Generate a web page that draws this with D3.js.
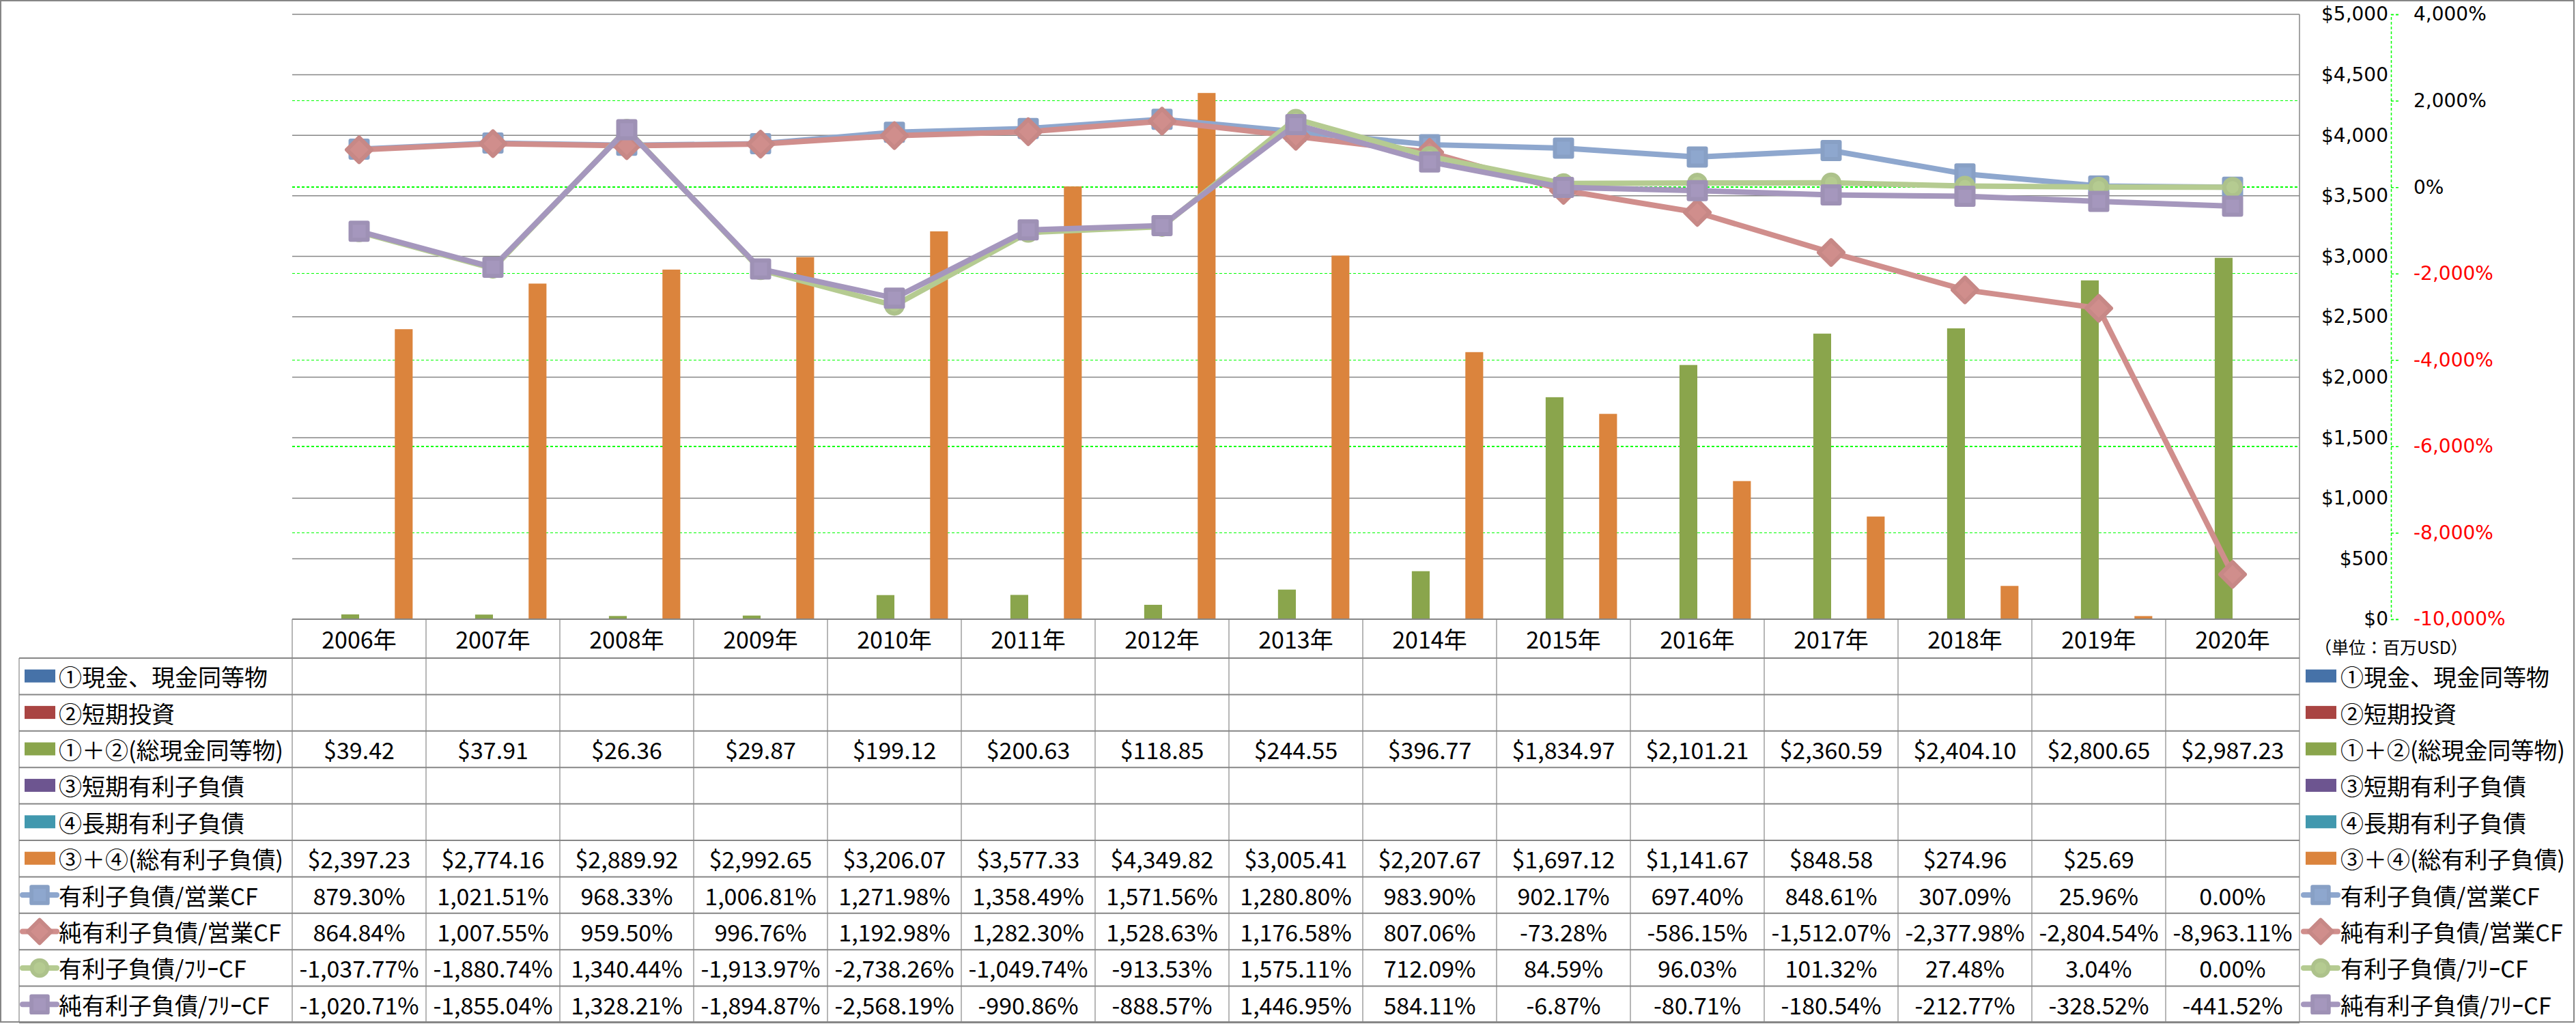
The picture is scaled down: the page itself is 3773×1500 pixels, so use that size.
<!DOCTYPE html>
<html><head><meta charset="utf-8">
<script src="https://cdn.jsdelivr.net/npm/d3@7"></script>
<style>body{margin:0;background:#fff}svg{display:block}</style>
</head><body>
<svg id="c" width="3773" height="1500"></svg>
<script>
// ---------- DATA ----------
const years = ["2006年","2007年","2008年","2009年","2010年","2011年","2012年","2013年","2014年","2015年","2016年","2017年","2018年","2019年","2020年"];
const cashEq = [];          // ①現金、現金同等物 (no values)
const shortInv = [];        // ②短期投資 (no values)
const cashTotal = [39.42, 37.91, 26.36, 29.87, 199.12, 200.63, 118.85, 244.55, 396.77, 1834.97, 2101.21, 2360.59, 2404.10, 2800.65, 2987.23];
const shortDebt = [];       // ③短期有利子負債 (no values)
const longDebt = [];        // ④長期有利子負債 (no values)
const debtTotal = [2397.23, 2774.16, 2889.92, 2992.65, 3206.07, 3577.33, 4349.82, 3005.41, 2207.67, 1697.12, 1141.67, 848.58, 274.96, 25.69, null];
const debtOpCF = [879.30, 1021.51, 968.33, 1006.81, 1271.98, 1358.49, 1571.56, 1280.80, 983.90, 902.17, 697.40, 848.61, 307.09, 25.96, 0.00];
const netDebtOpCF = [864.84, 1007.55, 959.50, 996.76, 1192.98, 1282.30, 1528.63, 1176.58, 807.06, -73.28, -586.15, -1512.07, -2377.98, -2804.54, -8963.11];
const debtFCF = [-1037.77, -1880.74, 1340.44, -1913.97, -2738.26, -1049.74, -913.53, 1575.11, 712.09, 84.59, 96.03, 101.32, 27.48, 3.04, 0.00];
const netDebtFCF = [-1020.71, -1855.04, 1328.21, -1894.87, -2568.19, -990.86, -888.57, 1446.95, 584.11, -6.87, -80.71, -180.54, -212.77, -328.52, -441.52];
const leftTicks = [0, 500, 1000, 1500, 2000, 2500, 3000, 3500, 4000, 4500, 5000];
const rightTicks = [-10000, -8000, -6000, -4000, -2000, 0, 2000, 4000];
const unitLabel = "（単位：百万USD）";

const barSeries = [
  {name:"①現金、現金同等物", color:"#4672A8", values:cashEq},
  {name:"②短期投資", color:"#A94442", values:shortInv},
  {name:"①＋②(総現金同等物)", color:"#8AA54C", values:cashTotal},
  {name:"③短期有利子負債", color:"#6D5590", values:shortDebt},
  {name:"④長期有利子負債", color:"#4198AE", values:longDebt},
  {name:"③＋④(総有利子負債)", color:"#DB843D", values:debtTotal}
];
const lineSeries = [
  {name:"有利子負債/営業CF", color:"#8EA7CE", marker:"square", values:debtOpCF},
  {name:"純有利子負債/営業CF", color:"#D08E8C", marker:"diamond", values:netDebtOpCF},
  {name:"有利子負債/ﾌﾘｰCF", color:"#B5CB91", marker:"circle", values:debtFCF},
  {name:"純有利子負債/ﾌﾘｰCF", color:"#A597BD", marker:"square", values:netDebtFCF}
];

// ---------- LAYOUT ----------
const W = 3773, H = 1500;
const plotL = 428, plotR = 3368, plotT = 21, plotB = 907;
const tableL = 28, tableB = 1498, headerB = 964;
const gridGray = "#868686";
const tableFont = "'Noto Sans CJK JP', sans-serif";
const axisFont = "'DejaVu Sans', sans-serif";

const loc = d3.formatLocale({decimal:".", thousands:",", grouping:[3], currency:["$",""], minus:"-"});
const fMoney = v => "$" + loc.format(",.2f")(v);
const fPct = v => loc.format(",.2f")(v) + "%";
const fAxisMoney = v => "$" + loc.format(",")(v);
const fAxisPct = v => loc.format(",")(v) + "%";

const svg = d3.select("#c");
svg.append("rect").attr("width", W).attr("height", H).attr("fill", "#fff");
svg.append("rect").attr("x",1).attr("y",1).attr("width",3769).attr("height",1496)
  .attr("fill","none").attr("stroke",gridGray).attr("stroke-width",2);

const x = d3.scaleBand().domain(years).range([plotL, plotR]).paddingInner(0).paddingOuter(0);
const xSub = d3.scaleBand().domain(d3.range(barSeries.length)).range([0, x.bandwidth()]).paddingInner(0).paddingOuter(0.75);
const yL = d3.scaleLinear().domain([0, 5000]).range([plotB, plotT]);
const yR = d3.scaleLinear().domain([-10000, 4000]).range([plotB, plotT]);

// secondary gridlines (green dashed)
svg.append("g").selectAll("line").data(rightTicks.filter(t => t > -10000 && t < 4000)).join("line")
  .attr("x1", plotL).attr("x2", plotR).attr("y1", d => yR(d)).attr("y2", d => yR(d))
  .attr("stroke", "#00FF00").attr("stroke-width", 1.5).attr("stroke-dasharray", "4,3").attr("shape-rendering","crispEdges");
// primary gridlines (gray)
svg.append("g").selectAll("line").data(leftTicks).join("line")
  .attr("x1", plotL).attr("x2", plotR).attr("y1", d => yL(d)).attr("y2", d => yL(d))
  .attr("stroke", gridGray).attr("stroke-width", 1.5);
// plot right border
svg.append("line").attr("x1", plotR).attr("x2", plotR).attr("y1", plotT).attr("y2", plotB)
  .attr("stroke", gridGray).attr("stroke-width", 1.5);

// primary axis labels (placed on the right)
const axL = svg.append("g").attr("transform", `translate(3498,0)`)
  .call(d3.axisLeft(yL).tickValues(leftTicks).tickFormat(fAxisMoney).tickSize(0).tickPadding(0));
axL.select(".domain").remove();
axL.selectAll("text").attr("font-family", axisFont).attr("font-size", 28).attr("fill", "#000");

// secondary axis
const axR = svg.append("g").attr("transform", `translate(3502,0)`)
  .call(d3.axisRight(yR).tickValues(rightTicks).tickFormat(fAxisPct).tickSize(11).tickPadding(22));
axR.select(".domain").attr("stroke", "#00FF00").attr("stroke-width", 1.5).attr("stroke-dasharray", "4,3");
axR.selectAll(".tick line").attr("stroke", "#00FF00").attr("stroke-width", 1.5).attr("stroke-dasharray", "4,3");
axR.selectAll("text").attr("font-family", axisFont).attr("font-size", 28)
  .attr("fill", d => d < 0 ? "#FF0000" : "#000");

// bars
barSeries.forEach((s, i) => {
  svg.append("g").selectAll("rect")
    .data(years.map((yr, j) => ({yr, v: s.values[j]})).filter(d => d.v != null))
    .join("rect")
    .attr("x", d => x(d.yr) + xSub(i)).attr("width", xSub.bandwidth())
    .attr("y", d => yL(d.v)).attr("height", d => yL(0) - yL(d.v))
    .attr("fill", s.color);
});

// markers
function markerPath(type) {
  if (type === "diamond") return "M0,-18L18,0L0,18L-18,0Z";
  if (type === "square") return "M-12.5,-12.5H12.5V12.5H-12.5Z";
  return null;
}
function drawMarker(g, type, color, cx, cy, scale) {
  scale = scale || 1;
  if (type === "circle") {
    g.append("circle").attr("cx", cx).attr("cy", cy).attr("r", 12 * scale)
      .attr("fill", color).attr("stroke", d3.color(color).darker(0.12)).attr("stroke-width", 6 * scale);
  } else {
    g.append("path").attr("d", markerPath(type))
      .attr("transform", `translate(${cx},${cy}) scale(${scale})`)
      .attr("fill", color).attr("stroke", d3.color(color).darker(0.12)).attr("stroke-width", 6)
      .attr("stroke-linejoin", "round");
  }
}

// lines
const lineGen = d3.line().x(d => x(d.yr) + x.bandwidth() / 2).y(d => yR(d.v));
lineSeries.forEach(s => {
  const pts = years.map((yr, j) => ({yr, v: s.values[j]}));
  const g = svg.append("g");
  g.append("path").datum(pts).attr("d", lineGen).attr("fill", "none")
    .attr("stroke", s.color).attr("stroke-width", 8).attr("stroke-linejoin", "round");
  pts.forEach(p => drawMarker(g, s.marker, s.color, x(p.yr) + x.bandwidth() / 2, yR(p.v)));
});

// ---------- DATA TABLE ----------
const rowNames = barSeries.map(s => s.name).concat(lineSeries.map(s => s.name));
const rows = d3.scaleBand().domain(rowNames).range([headerB, tableB]);
const tg = svg.append("g");
// horizontal lines
tg.append("line").attr("x1", plotL).attr("x2", plotR).attr("y1", plotB).attr("y2", plotB)
  .attr("stroke", gridGray).attr("stroke-width", 2);
tg.selectAll(".hl").data(rowNames.map(n => rows(n)).concat([tableB])).join("line")
  .attr("x1", tableL).attr("x2", plotR).attr("y1", d => d).attr("y2", d => d)
  .attr("stroke", gridGray).attr("stroke-width", 2);
// vertical lines
tg.selectAll(".vl").data(years.map(y => x(y)).concat([plotR])).join("line")
  .attr("x1", d => d).attr("x2", d => d).attr("y1", plotB).attr("y2", tableB)
  .attr("stroke", gridGray).attr("stroke-width", 1.2);
tg.append("line").attr("x1", tableL).attr("x2", tableL).attr("y1", headerB).attr("y2", tableB)
  .attr("stroke", gridGray).attr("stroke-width", 1.2);

// header
tg.selectAll(".hd").data(years).join("text")
  .attr("x", d => x(d) + x.bandwidth() / 2).attr("y", (plotB + headerB) / 2)
  .attr("text-anchor", "middle").attr("dominant-baseline", "central")
  .attr("font-family", tableFont).attr("font-size", 34).attr("fill", "#000").text(d => d);

// rows
function rowKey(g, name, kx) {
  const cy = rows(name) + rows.bandwidth() / 2;
  const bs = barSeries.find(s => s.name === name);
  if (bs) {
    g.append("rect").attr("x", kx).attr("y", cy - 10).attr("width", 45).attr("height", 19).attr("fill", bs.color);
  } else {
    const ls = lineSeries.find(s => s.name === name);
    g.append("line").attr("x1", kx - 3).attr("x2", kx + 47).attr("y1", cy).attr("y2", cy)
      .attr("stroke", ls.color).attr("stroke-width", 8).attr("stroke-linecap", "round");
    drawMarker(g, ls.marker, ls.color, kx + 22, cy, 0.95);
  }
}
const allSeries = barSeries.map(s => ({...s, fmt: fMoney})).concat(lineSeries.map(s => ({...s, fmt: fPct})));
allSeries.forEach(s => {
  const cy = rows(s.name) + rows.bandwidth() / 2;
  rowKey(tg, s.name, 36);
  tg.append("text").attr("x", 86).attr("y", cy).attr("dominant-baseline", "central")
    .attr("font-family", tableFont).attr("font-size", 34).attr("fill", "#000").text(s.name);
  tg.selectAll(null).data(years.map((yr, j) => ({yr, v: s.values[j]})).filter(d => d.v != null)).join("text")
    .attr("x", d => x(d.yr) + x.bandwidth() / 2).attr("y", cy)
    .attr("text-anchor", "middle").attr("dominant-baseline", "central")
    .attr("font-family", tableFont).attr("font-size", 34).attr("fill", "#000")
    .text(d => s.fmt(d.v));
  // right legend
  rowKey(svg, s.name, 3377);
  svg.append("text").attr("x", 3428).attr("y", cy).attr("dominant-baseline", "central")
    .attr("font-family", tableFont).attr("font-size", 34).attr("fill", "#000").text(s.name);
});

svg.append("text").attr("x", 3390).attr("y", 947).attr("dominant-baseline", "central")
  .attr("font-family", tableFont).attr("font-size", 25).attr("fill", "#000").text(unitLabel);
</script>
</body></html>
